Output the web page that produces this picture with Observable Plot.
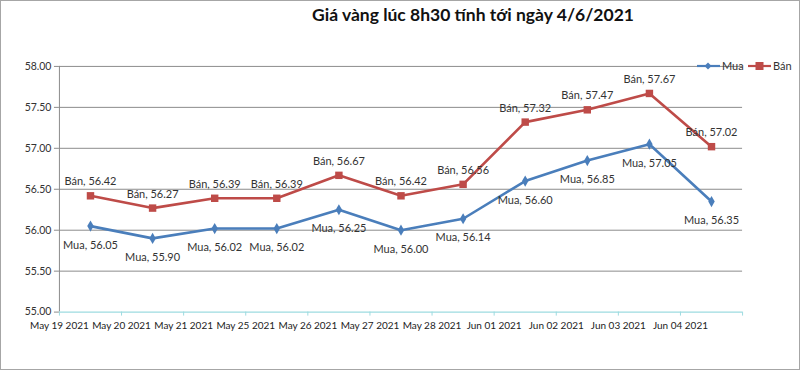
<!DOCTYPE html>
<html>
<head>
<meta charset="utf-8">
<script src="https://cdn.jsdelivr.net/npm/d3@7"></script>
<script src="https://cdn.jsdelivr.net/npm/@observablehq/plot@0.6"></script>
<style>
  html, body { margin: 0; padding: 0; background: #fff; }
  #wrap { position: relative; width: 800px; height: 370px; box-sizing: border-box; border: 1px solid #a6a6a6; overflow: hidden; font-family: Lato, "Open Sans", sans-serif; }
  #title { position: absolute; left: 0; width: 944px; top: 3px; text-align: center; font-size: 17.5px; font-weight: bold; color: #111; white-space: nowrap; }
  #legend { position: absolute; top: 58px; left: 0; width: 800px; height: 14px; font-size: 11px; color: #333; }
  #legend .item { position: absolute; top: 0; display: flex; align-items: center; }
  #chart { position: absolute; left: -1px; top: -1px; }
</style>
</head>
<body>
<div id="wrap">
  <div id="chart"></div>
  <div id="title">Giá vàng lúc 8h30 tính tới ngày 4/6/2021</div>
  <div id="legend"></div>
</div>
<script>
const dates = ["May 19 2021","May 20 2021","May 21 2021","May 25 2021","May 26 2021","May 27 2021","May 28 2021","Jun 01 2021","Jun 02 2021","Jun 03 2021","Jun 04 2021"];
const mua = [56.05, 55.90, 56.02, 56.02, 56.25, 56.00, 56.14, 56.60, 56.85, 57.05, 56.35];
const ban = [56.42, 56.27, 56.39, 56.39, 56.67, 56.42, 56.56, 57.32, 57.47, 57.67, 57.02];
const yTicks = [55.0, 55.5, 56.0, 56.5, 57.0, 57.5, 58.0];
const seriesNames = ["Mua", "Bán"];
const colors = ["#4a7ebb", "#be4b48"];

const muaData = mua.map((v, i) => ({i: i + 0.5, v, label: `Mua, ${v.toFixed(2)}`}));
const banData = ban.map((v, i) => ({i: i + 0.5, v, label: `Bán, ${v.toFixed(2)}`}));
const xTicks = d3.range(dates.length + 1);

const chart = Plot.plot({
  width: 800,
  height: 370,
  marginLeft: 59,
  marginRight: 57,
  marginTop: 66,
  marginBottom: 58,
  style: {fontFamily: "Lato, 'Open Sans', sans-serif", fontSize: "11px", color: "#333", background: "transparent"},
  x: {domain: [0, dates.length]},
  y: {domain: [55, 58]},
  marks: [
    Plot.ruleY(yTicks.slice(1), {x1: 0, x2: dates.length, stroke: "#8c8c8c", strokeWidth: 1, strokeOpacity: 1}),
    Plot.ruleX([0], {y1: 55, y2: 58, stroke: "#8c8c8c", strokeOpacity: 1}),
    Plot.ruleY([55], {x1: 0, x2: dates.length, stroke: "#9ddbe0", strokeWidth: 1.2, strokeOpacity: 1}),
    Plot.axisY({ticks: yTicks, tickFormat: d => d.toFixed(2), tickSize: 5, tickPadding: 3, stroke: "#8c8c8c", fill: "#333", label: null, fontSize: 10.5}),
    Plot.axisX({ticks: xTicks, tickFormat: d => dates[d] ?? "", tickSize: 4, tickPadding: 6, stroke: "#9ddbe0", fill: "#222", label: null, fontSize: 10}),
    Plot.line(banData, {x: "i", y: "v", stroke: colors[1], strokeWidth: 2.6}),
    Plot.line(muaData, {x: "i", y: "v", stroke: colors[0], strokeWidth: 2.6}),
    Plot.dot(banData, {x: "i", y: "v", symbol: "square", r: 4.2, fill: colors[1], stroke: "none"}),
    Plot.dot(muaData, {x: "i", y: "v", symbol: "diamond", r: 3.4, fill: colors[0], stroke: "none"}),
    Plot.text(banData, {x: "i", y: "v", text: "label", dy: -14, fill: "#333", fontSize: 11}),
    Plot.text(muaData, {x: "i", y: "v", text: "label", dy: 19, fill: "#333", fontSize: 11})
  ]
});
document.getElementById("chart").appendChild(chart);

const legend = document.getElementById("legend");
const legendLeft = [696, 747];
seriesNames.forEach((name, k) => {
  const item = document.createElement("div");
  item.className = "item";
  item.style.left = legendLeft[k] + "px";
  const sym = k === 0
    ? `<polygon points="11,1.5 14.5,5 11,8.5 7.5,5" fill="${colors[k]}"/>`
    : `<rect x="7.5" y="1" width="8" height="8" fill="${colors[k]}"/>`;
  item.innerHTML = `<svg width="23" height="10"><line x1="0" y1="5" x2="23" y2="5" stroke="${colors[k]}" stroke-width="2.2"/>${sym}</svg><span style="margin-left:2px">${name}</span>`;
  legend.appendChild(item);
});
</script>
</body>
</html>
